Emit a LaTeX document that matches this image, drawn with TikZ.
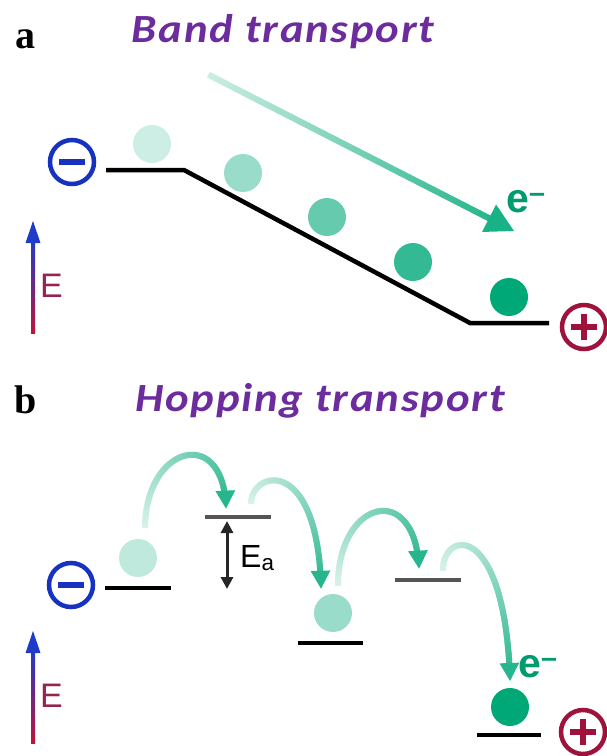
\documentclass[tikz,border=0pt]{standalone}
\usepackage{fontspec}
\setmainfont{Liberation Serif}
\setsansfont{Liberation Sans}
\newfontface\titlefont{Carlito Bold Italic}[LetterSpace=4]
\usetikzlibrary{decorations.markings,arrows.meta}

\definecolor{hopgreen}{RGB}{0,168,120}
\definecolor{titlepurple}{RGB}{108,44,158}
\definecolor{minusblue}{RGB}{22,50,190}
\definecolor{pluscrimson}{RGB}{158,18,60}
\definecolor{eblue}{RGB}{30,60,200}
\definecolor{ered}{RGB}{190,20,60}
\definecolor{levelgrey}{RGB}{85,85,85}
\definecolor{energytext}{RGB}{150,35,80}

\tikzset{
  electron/.style={
    circle,
    fill=#1,
    draw=none,
    minimum size=38pt,
    inner sep=0pt,
  },
  level/.style={line width=4.5pt},
  sign/.style={
    circle,
    draw=#1,
    line width=4.5pt,
    minimum size=44pt,
    inner sep=0pt,
  },
  title/.style={font=\titlefont\fontsize{40}{46}\selectfont, text=titlepurple, inner sep=0pt, xscale=1.12, transform shape},
  panel/.style={font=\bfseries\fontsize{40}{44}\selectfont, inner sep=0pt},
  energy/.style={font=\sffamily\fontsize{34}{38}\selectfont, text=energytext, inner sep=0pt},
  carrier/.style={font=\sffamily\bfseries\fontsize{41}{44}\selectfont, text=hopgreen!92!black, inner sep=0pt},
  flow/.style n args={3}{
    postaction={decorate},
    decoration={markings,
      mark=between positions 0 and -0.5*#3 step 1pt with {
        \pgfmathsetmacro\flowfrac{\pgfkeysvalueof{/pgf/decoration/mark info/distance from start}/\pgfdecoratedpathlength}
        \pgfmathsetmacro\flowpct{#1+(#2-#1)*\flowfrac}
        \draw[line width=6pt, hopgreen!\flowpct!white] (-0.8pt,0) -- (0.8pt,0);
      },
      mark=at position -3pt with {
        \fill[hopgreen!#2!white] (3pt,0) -- (3pt-#3,0.55*#3) -- (3pt-#3,-0.55*#3) -- cycle;
      }
    }
  }
}

\begin{document}
\begin{tikzpicture}[x=1pt, y=-1pt]
  \useasboundingbox (0,0) rectangle (606,756);

  % panel a
  \node[panel, anchor=base] (lbla) at (26,48) {a};
  \node[title, anchor=base] (titlea) at (283,42) {Band transport};

  \node[sign=minusblue] (mineg) at (72,162) {};
  \draw[minusblue, line width=6pt] (mineg.center) ++(-13,0) -- ++(26,0);
  \node[sign=pluscrimson] (pla) at (584,327) {};
  \draw[pluscrimson, line width=6pt] (pla.center) ++(-13,0) -- ++(26,0);
  \draw[pluscrimson, line width=6pt] (pla.center) ++(0,-13) -- ++(0,26);

  \draw[level] (106,170) -- (184,170) -- (470,323) -- (549,323);

  \node[electron=hopgreen!20!white] (ea1) at (152,144) {};
  \node[electron=hopgreen!40!white] (ea2) at (243,173) {};
  \node[electron=hopgreen!60!white] (ea3) at (327,217) {};
  \node[electron=hopgreen!80!white] (ea4) at (413,262) {};
  \node[electron=hopgreen] (ea5) at (509,297) {};

  \coordinate (banda) at (209,75);
  \coordinate (bandb) at (514,231);
  \path[flow={20}{90}{28pt}] (banda) -- (bandb);
  \node[carrier, anchor=base west] (carra) at (506,212) {e\textsuperscript{–}};

  \shade[bottom color=ered, top color=eblue] (31,238) rectangle (35,333);
  \fill[eblue] (33,221) -- (25.5,243) -- (40.5,243) -- cycle;
  \node[energy, anchor=base west] (ena) at (40,297) {E};

  % panel b
  \node[panel, anchor=base] (lblb) at (26,413) {b};
  \node[title, anchor=base] (titleb) at (320,411) {Hopping transport};

  \node[sign=minusblue] (minb) at (71,585) {};
  \draw[minusblue, line width=6pt] (minb.center) ++(-13,0) -- ++(26,0);
  \node[sign=pluscrimson] (plb) at (583,732) {};
  \draw[pluscrimson, line width=6pt] (plb.center) ++(-13,0) -- ++(26,0);
  \draw[pluscrimson, line width=6pt] (plb.center) ++(0,-13) -- ++(0,26);

  \draw[level] (105,588) -- (171,588);
  \draw[level, levelgrey] (205,517) -- (271,517);
  \draw[level] (298,643) -- (363,643);
  \draw[level, levelgrey] (395,580) -- (461,580);
  \draw[level] (477,735) -- (541,735);

  \node[electron=hopgreen!25!white] (eb1) at (138,558) {};
  \node[electron=hopgreen!40!white] (eb2) at (333,613) {};
  \node[electron=hopgreen] (eb3) at (510,707) {};

  \coordinate (eatop) at (227,521);
  \coordinate (eabot) at (227,589);
  \draw[line width=3pt, black!85, {Triangle[length=12pt,width=12pt]}-{Triangle[length=12pt,width=12pt]}] (eatop) -- (eabot);
  \node[energy, text=black, font=\sffamily\fontsize{32}{36}\selectfont, anchor=base west] (act) at (240,567) {E\textsubscript{a}};

  \coordinate (h1a) at (145,527);
  \coordinate (h1b) at (226,508);
  \coordinate (h2a) at (251,503);
  \coordinate (h2b) at (321,588);
  \coordinate (h3a) at (338,585);
  \coordinate (h3b) at (419,568);
  \coordinate (h4a) at (443,570);
  \coordinate (h4b) at (510,680);
  \path[flow={15}{85}{18pt}] (h1a) .. controls (146,445) and (224,425) .. (h1b);
  \path[flow={15}{85}{18pt}] (h2a) .. controls (252,470) and (318,455) .. (h2b);
  \path[flow={15}{85}{18pt}] (h3a) .. controls (338,500) and (415,480) .. (h3b);
  \path[flow={15}{85}{18pt}] (h4a) .. controls (443,530) and (505,520) .. (h4b);
  \node[carrier, anchor=base west] (carrb) at (518,677) {e\textsuperscript{–}};

  \shade[bottom color=ered, top color=eblue] (31,648) rectangle (35,743);
  \fill[eblue] (33,631) -- (25.5,653) -- (40.5,653) -- cycle;
  \node[energy, anchor=base west] (enb) at (40,707) {E};
\end{tikzpicture}
\end{document}
